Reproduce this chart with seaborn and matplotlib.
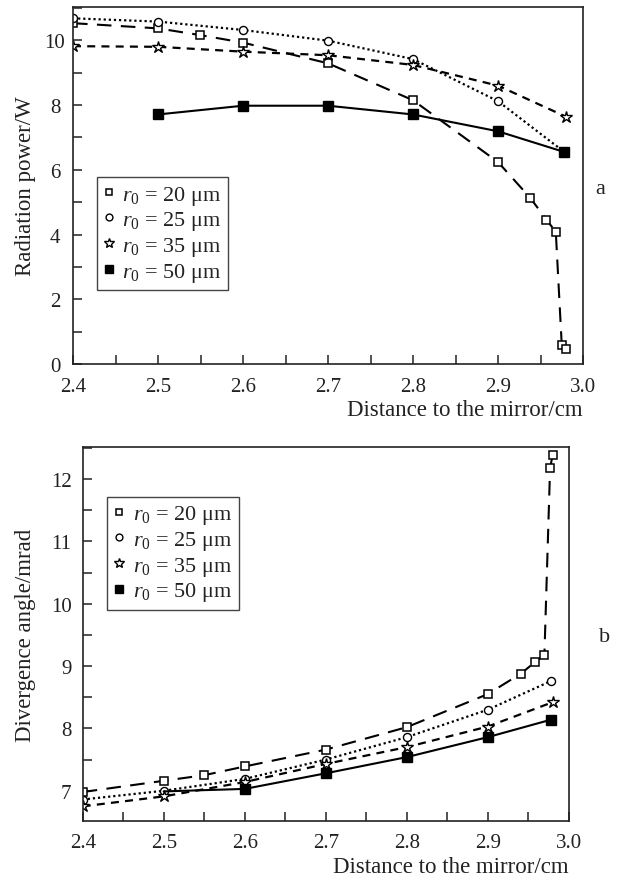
import matplotlib
matplotlib.use("Agg")
import matplotlib.pyplot as plt
from matplotlib.lines import Line2D
from matplotlib.ticker import MultipleLocator, FormatStrFormatter
import seaborn as sns

sns.set_theme(style="white")
plt.rcParams["font.family"] = ["Liberation Serif", "DejaVu Serif"]
plt.rcParams["mathtext.fontset"] = "custom"
plt.rcParams["mathtext.rm"] = "Liberation Serif"
plt.rcParams["mathtext.it"] = "Liberation Serif:italic"

# ---------------- data: panel a (radiation power, W) ----------------
a_x20 = [2.40, 2.50, 2.55, 2.60, 2.70, 2.80, 2.90, 2.938, 2.957, 2.968, 2.975, 2.98]
a_y20 = [10.53, 10.37, 10.16, 9.93, 9.29, 8.15, 6.24, 5.13, 4.46, 4.08, 0.59, 0.46]
a_x25 = [2.40, 2.50, 2.60, 2.70, 2.80, 2.90, 2.978]
a_y25 = [10.68, 10.58, 10.32, 9.99, 9.42, 8.12, 6.55]
a_x35 = [2.40, 2.50, 2.60, 2.70, 2.80, 2.90, 2.98]
a_y35 = [9.82, 9.80, 9.65, 9.54, 9.24, 8.60, 7.64]
a_x50 = [2.50, 2.60, 2.70, 2.80, 2.90, 2.978]
a_y50 = [7.71, 7.98, 7.98, 7.71, 7.19, 6.55]

# ---------------- data: panel b (divergence angle, mrad) ----------------
b_x20 = [2.40, 2.50, 2.55, 2.60, 2.70, 2.80, 2.90, 2.941, 2.959, 2.970, 2.977, 2.980]
b_y20 = [6.98, 7.16, 7.25, 7.39, 7.66, 8.02, 8.55, 8.88, 9.07, 9.18, 12.17, 12.38]
b_x25 = [2.40, 2.50, 2.60, 2.70, 2.80, 2.90, 2.978]
b_y25 = [6.86, 7.00, 7.19, 7.50, 7.86, 8.30, 8.76]
b_x35 = [2.40, 2.50, 2.60, 2.70, 2.80, 2.90, 2.98]
b_y35 = [6.75, 6.91, 7.14, 7.43, 7.70, 8.03, 8.42]
b_x50 = [2.50, 2.60, 2.70, 2.80, 2.90, 2.978]
b_y50 = [6.99, 7.03, 7.28, 7.54, 7.86, 8.14]

labels = [r"$r_0$ = 20 μm", r"$r_0$ = 25 μm", r"$r_0$ = 35 μm", r"$r_0$ = 50 μm"]

# ---------------- styles ----------------
styles = [
    dict(ls=(0, (7.0, 4.5)), lw=1.5, marker="s", ms=5.8, mfc="white", mec="black", mew=1.1),
    dict(ls=(0, (1.0, 1.3)), lw=1.6, marker="o", ms=5.8, mfc="white", mec="black", mew=1.0),
    dict(ls=(0, (3.6, 2.8)), lw=1.6, marker="*", ms=9.0, mfc="white", mec="black", mew=1.0),
    dict(ls="-", lw=1.5, marker="s", ms=6.8, mfc="black", mec="black", mew=1.0),
]

INK = "#222222"
SERIF = "Liberation Serif"

fig = plt.figure(figsize=(6.18, 8.79), dpi=100)
ax1 = fig.add_axes([73 / 618, 1 - 365 / 879, 510 / 618, 357 / 879])
ax2 = fig.add_axes([82.7 / 618, 1 - 821.7 / 879, 486 / 618, 373.4 / 879])

def draw(ax, series, hide_first=False):
    for i, (xs, ys) in enumerate(series):
        st = styles[i]
        kw = dict(color="black", linestyle=st["ls"], linewidth=st["lw"], marker=st["marker"],
                  markersize=st["ms"], markerfacecolor=st["mfc"], markeredgecolor=st["mec"],
                  markeredgewidth=st["mew"], sort=False, estimator=None, legend=False)
        if hide_first and i == 3:
            kw["markevery"] = list(range(1, len(xs)))
        sns.lineplot(x=xs, y=ys, ax=ax, **kw)

draw(ax1, [(a_x20, a_y20), (a_x25, a_y25), (a_x35, a_y35), (a_x50, a_y50)])
draw(ax2, [(b_x20, b_y20), (b_x25, b_y25), (b_x35, b_y35), (b_x50, b_y50)], hide_first=True)

for ax in (ax1, ax2):
    ax.set_xlim(2.4, 3.0)
    ax.xaxis.set_major_locator(MultipleLocator(0.1))
    ax.xaxis.set_minor_locator(MultipleLocator(0.05))
    ax.xaxis.set_major_formatter(FormatStrFormatter("%.1f"))
    ax.tick_params(axis="both", which="both", direction="in", length=6.5, width=1.1,
                   colors=INK, labelsize=15, labelfontfamily=SERIF, top=False, right=False,
                   bottom=True, left=True)
    ax.tick_params(axis="x", which="major", pad=9)
    for sp in ax.spines.values():
        sp.set_color(INK)
        sp.set_linewidth(1.2)
    ax.set_xlabel("Distance to the mirror/cm", fontsize=16.5, color=INK, family=SERIF,
                  ha="right", va="top")
    ax.grid(False)

ax1.set_ylim(0, 11.03)
ax1.yaxis.set_major_locator(MultipleLocator(2))
ax1.yaxis.set_minor_locator(MultipleLocator(1))
ax1.tick_params(axis="y", which="major", pad=13)
ax1.set_ylabel("Radiation power/W", fontsize=16.5, color=INK, family=SERIF)
ax1.xaxis.set_label_coords(1.0, -0.099)
ax1.yaxis.set_label_coords((36 - 73) / 510, 0.5)
plt.setp(ax1.get_yticklabels(), ha="center")

ax2.set_ylim(6.52, 12.51)
ax2.yaxis.set_major_locator(MultipleLocator(1))
ax2.yaxis.set_minor_locator(MultipleLocator(0.5))
ax2.tick_params(axis="y", which="major", pad=8)
ax2.set_ylabel("Divergence angle/mrad", fontsize=16.5, color=INK, family=SERIF)
ax2.xaxis.set_label_coords(1.0, -0.095)
ax2.yaxis.set_label_coords((36 - 82.7) / 486, 0.5)

def legend_handles():
    hs = []
    for st, lab in zip(styles, labels):
        hs.append(Line2D([], [], linestyle="none", marker=st["marker"],
                         markersize=st["ms"] * 0.85, markerfacecolor=st["mfc"],
                         markeredgecolor=st["mec"], markeredgewidth=st["mew"], label=lab))
    return hs

for ax, anchor in ((ax1, (0.0465, 0.524)), (ax2, (0.05, 0.8677))):
    leg = ax.legend(handles=legend_handles(), loc="upper left", bbox_to_anchor=anchor,
                    borderaxespad=0, frameon=True, fancybox=False, framealpha=1,
                    edgecolor="#444444", prop={"family": SERIF, "size": 16},
                    handlelength=0.5, handletextpad=0.35, labelspacing=0.12,
                    borderpad=0.3)
    leg.get_frame().set_linewidth(1.0)
    for t in leg.get_texts():
        t.set_color(INK)

fig.text(600 / 618, 1 - 190 / 879, "a", fontsize=16, family=SERIF, ha="center", va="center", color=INK)
fig.text(605 / 618, 1 - 637 / 879, "b", fontsize=16, family=SERIF, ha="center", va="center", color=INK)

fig.savefig("out.png", dpi=100)
